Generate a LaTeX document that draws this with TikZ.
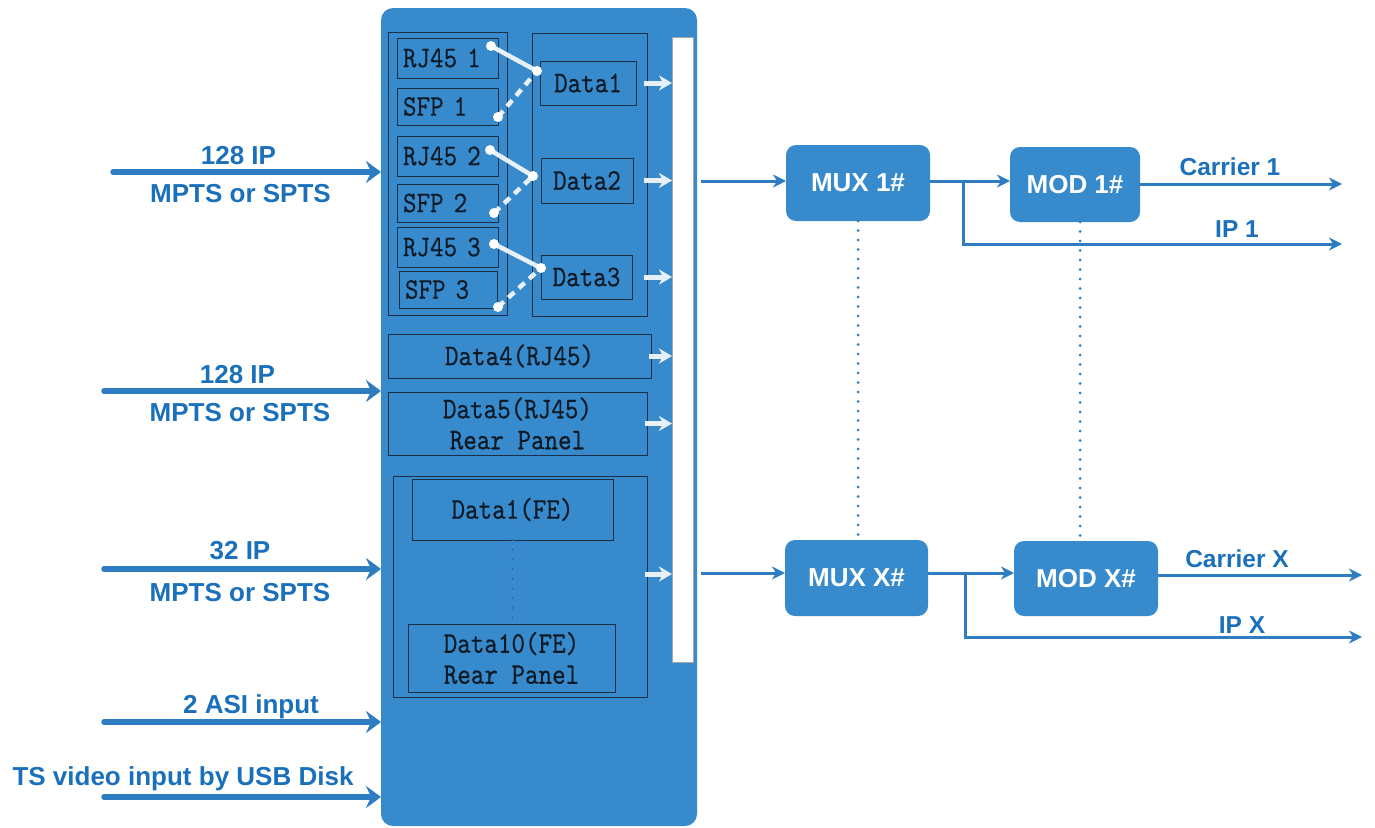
\documentclass[tikz,border=0pt]{standalone}
\usepackage{fontspec}
\usetikzlibrary{arrows.meta}
\setmainfont{Liberation Sans}
\newfontfamily\monof{lmmono10-regular}[Extension=.otf,FakeStretch=0.86,FakeBold=0.4]
\definecolor{mainblue}{HTML}{378ACB}
\definecolor{lineblue}{HTML}{2E7DC2}
\definecolor{txtblue}{HTML}{1A70BA}
\definecolor{edge}{HTML}{1B2F45}
\definecolor{ink}{HTML}{0E1A26}
\definecolor{wline}{HTML}{E8F0F7}
\definecolor{dotblue}{HTML}{1F6FB5}
\begin{document}
\begin{tikzpicture}[x=1pt,y=-1pt,
  every node/.style={inner sep=0pt, outer sep=0pt},
  mainbox/.style={fill=mainblue, rounded corners=12pt, minimum width=316pt, minimum height=818pt},
  grp/.style={draw=edge, line width=0.9pt},
  port/.style={draw=edge, line width=0.9pt, text=ink, font=\monof\fontsize{30}{31}\selectfont, align=left, inner xsep=6pt},
  dbox/.style={draw=edge, line width=0.9pt, text=ink, font=\monof\fontsize{30}{31}\selectfont, align=center},
  barbox/.style={fill=white, draw=gray!70, line width=0.8pt},
  muxbox/.style={fill=mainblue, rounded corners=10pt, text=white, font=\bfseries\fontsize{26}{28}\selectfont},
  lab/.style={text=txtblue, font=\bfseries\fontsize{26}{28}\selectfont, anchor=base},
  rlab/.style={text=txtblue, font=\bfseries\fontsize{24.5}{26}\selectfont, anchor=base},
  inarr/.style={draw=lineblue, line width=5.5pt, line cap=round, -{Stealth[length=15pt,width=22pt,inset=5pt]}},
  rarr/.style={draw=lineblue, line width=3pt, -{Stealth[length=13pt,width=13pt,inset=4pt]}},
  warr/.style={draw=wline, line width=5pt, -{Stealth[length=13pt,width=15pt,inset=4pt]}},
  wsolid/.style={draw=wline, line width=4.5pt},
  wdash/.style={draw=wline, line width=4.5pt, dash pattern=on 8pt off 6pt},
  dotl/.style={draw=lineblue, line width=3pt, line cap=round, dash pattern=on 0pt off 9.5pt},
  fedot/.style={draw=dotblue, line width=2.5pt, line cap=round, dash pattern=on 0pt off 9.7pt}
]
\useasboundingbox (0,0) rectangle (1375,827);

% main block
\node[mainbox] (main) at (539,417) {};
\node[grp, minimum width=119pt, minimum height=283pt] (grpL) at (447.5,173.5) {};
\node[grp, minimum width=115pt, minimum height=283pt] (grpR) at (589.5,174.5) {};

\node[port, minimum width=101pt, minimum height=40pt, text width=89pt] (rj1) at (447.5,58) {RJ45 1};
\node[port, minimum width=101pt, minimum height=37pt, text width=89pt] (sfp1) at (447.5,106.5) {SFP 1};
\node[port, minimum width=101pt, minimum height=40pt, text width=89pt] (rj2) at (447.5,156) {RJ45 2};
\node[port, minimum width=101pt, minimum height=38pt, text width=89pt] (sfp2) at (447.5,203) {SFP 2};
\node[port, minimum width=101pt, minimum height=40pt, text width=89pt] (rj3) at (447.5,247) {RJ45 3};
\node[port, minimum width=98pt, minimum height=37pt, text width=86pt] (sfp3) at (448,289.5) {SFP 3};

\node[dbox, minimum width=96pt, minimum height=44pt] (d1) at (588,83) {Data1};
\node[dbox, minimum width=92pt, minimum height=45pt] (d2) at (587,180.5) {Data2};
\node[dbox, minimum width=91pt, minimum height=44pt] (d3) at (586.5,277) {Data3};
\node[dbox, minimum width=263pt, minimum height=44pt] (d4) at (519.5,356) {Data4(RJ45)};
\node[dbox, minimum width=259pt, minimum height=63pt] (d5) at (517.5,423.5) {Data5(RJ45)\\Rear Panel};
\node[grp, minimum width=254pt, minimum height=221pt] (fe) at (520,586.5) {};
\node[dbox, minimum width=201pt, minimum height=61pt] (fe1) at (512.5,509.5) {Data1(FE)};
\node[dbox, minimum width=207pt, minimum height=68pt] (fe10) at (511.5,658) {Data10(FE)\\Rear Panel};
\draw[fedot] (fe1.south) -- (fe1.south |- fe10.north);

\node[barbox, minimum width=21pt, minimum height=625pt] (bar) at (682.5,349.5) {};

% port connectors
\coordinate (r1dot) at (491,46);  \coordinate (d1dot) at (537,71);  \coordinate (s1dot) at (498,117);
\coordinate (r2dot) at (490,150); \coordinate (d2dot) at (533,176); \coordinate (s2dot) at (494,213);
\coordinate (r3dot) at (494,244); \coordinate (d3dot) at (541,268); \coordinate (s3dot) at (498,307);
\draw[wsolid] (r1dot) -- (d1dot);
\draw[wdash] (s1dot) -- (d1dot);
\draw[wsolid] (r2dot) -- (d2dot);
\draw[wdash] (s2dot) -- (d2dot);
\draw[wsolid] (r3dot) -- (d3dot);
\draw[wdash] (s3dot) -- (d3dot);
\foreach \p in {r1dot,d1dot,s1dot,r2dot,d2dot,s2dot,r3dot,d3dot,s3dot}
  \fill[white] (\p) circle[radius=5pt];

% white arrows into bar
\draw[warr] ([xshift=-3pt]grpR.east |- d1) -- (bar.west |- d1);
\draw[warr] ([xshift=-3pt]grpR.east |- d2) -- (bar.west |- d2);
\draw[warr] ([xshift=-3pt]grpR.east |- d3) -- (bar.west |- d3);
\draw[warr] ([xshift=-2pt]d4.east) -- (bar.west |- d4);
\draw[warr] ([xshift=-2pt]d5.east) -- (bar.west |- d5);
\draw[warr] ([xshift=-2pt]fe.east |- 0,574) -- (bar.west |- 0,574);

% inputs
\coordinate (in1) at (113,172);
\coordinate (in2) at (104,391);
\coordinate (in3) at (104,569);
\coordinate (in4) at (104,722);
\coordinate (in5) at (104,797);
\draw[inarr] (in1) -- (in1 -| main.west);
\draw[inarr] (in2) -- (in2 -| main.west);
\draw[inarr] (in3) -- (in3 -| main.west);
\draw[inarr] (in4) -- (in4 -| main.west);
\draw[inarr] (in5) -- (in5 -| main.west);
\node[lab] (t1a) at (238.5,164) {128 IP};
\node[lab] (t1b) at (240.5,202) {MPTS or SPTS};
\node[lab] (t2a) at (237.5,383) {128 IP};
\node[lab] (t2b) at (240,421) {MPTS or SPTS};
\node[lab] (t3a) at (240,559) {32 IP};
\node[lab] (t3b) at (240,601) {MPTS or SPTS};
\node[lab] (t4) at (251,713) {2 ASI input};
\node[lab] (t5) at (183,785) {TS video input by USB Disk};

% MUX / MOD
\node[muxbox, minimum width=144pt, minimum height=76pt] (mux1) at (858,183) {MUX 1\#};
\node[muxbox, minimum width=130pt, minimum height=75pt] (mod1) at (1075,184.5) {MOD 1\#};
\node[muxbox, minimum width=143pt, minimum height=76pt] (muxX) at (856.5,578) {MUX X\#};
\node[muxbox, minimum width=144pt, minimum height=75pt] (modX) at (1086,578.5) {MOD X\#};

\draw[dotl] (mux1.south) -- (mux1.south |- muxX.north);
\coordinate (dm) at (1080,0);
\draw[dotl] (mod1.south -| dm) -- (modX.north -| dm);

\coordinate (l1) at (701,181);
\draw[rarr] (l1) -- (l1 -| mux1.west);
\coordinate (b1) at (963,181);
\draw[rarr] (mux1.east |- b1) -- (b1 -| mod1.west);
\coordinate (ip1) at (1342,244);
\draw[rarr] (b1) |- (ip1);
\coordinate (c1) at (1342,184);
\draw[rarr] (mod1.east |- c1) -- (c1);

\coordinate (lx) at (701,573);
\draw[rarr] (lx) -- (lx -| muxX.west);
\coordinate (bx) at (965,573);
\draw[rarr] (muxX.east |- bx) -- (bx -| modX.west);
\coordinate (ipx) at (1362,637);
\draw[rarr] (bx) |- (ipx);
\coordinate (cxe) at (1362,575);
\draw[rarr] (modX.east |- cxe) -- (cxe);

\node[rlab] (car1) at (1230,175) {Carrier 1};
\node[rlab] (lip1) at (1237,237) {IP 1};
\node[rlab] (carx) at (1237,567) {Carrier X};
\node[rlab] (lipx) at (1242,633) {IP X};
\end{tikzpicture}
\end{document}
